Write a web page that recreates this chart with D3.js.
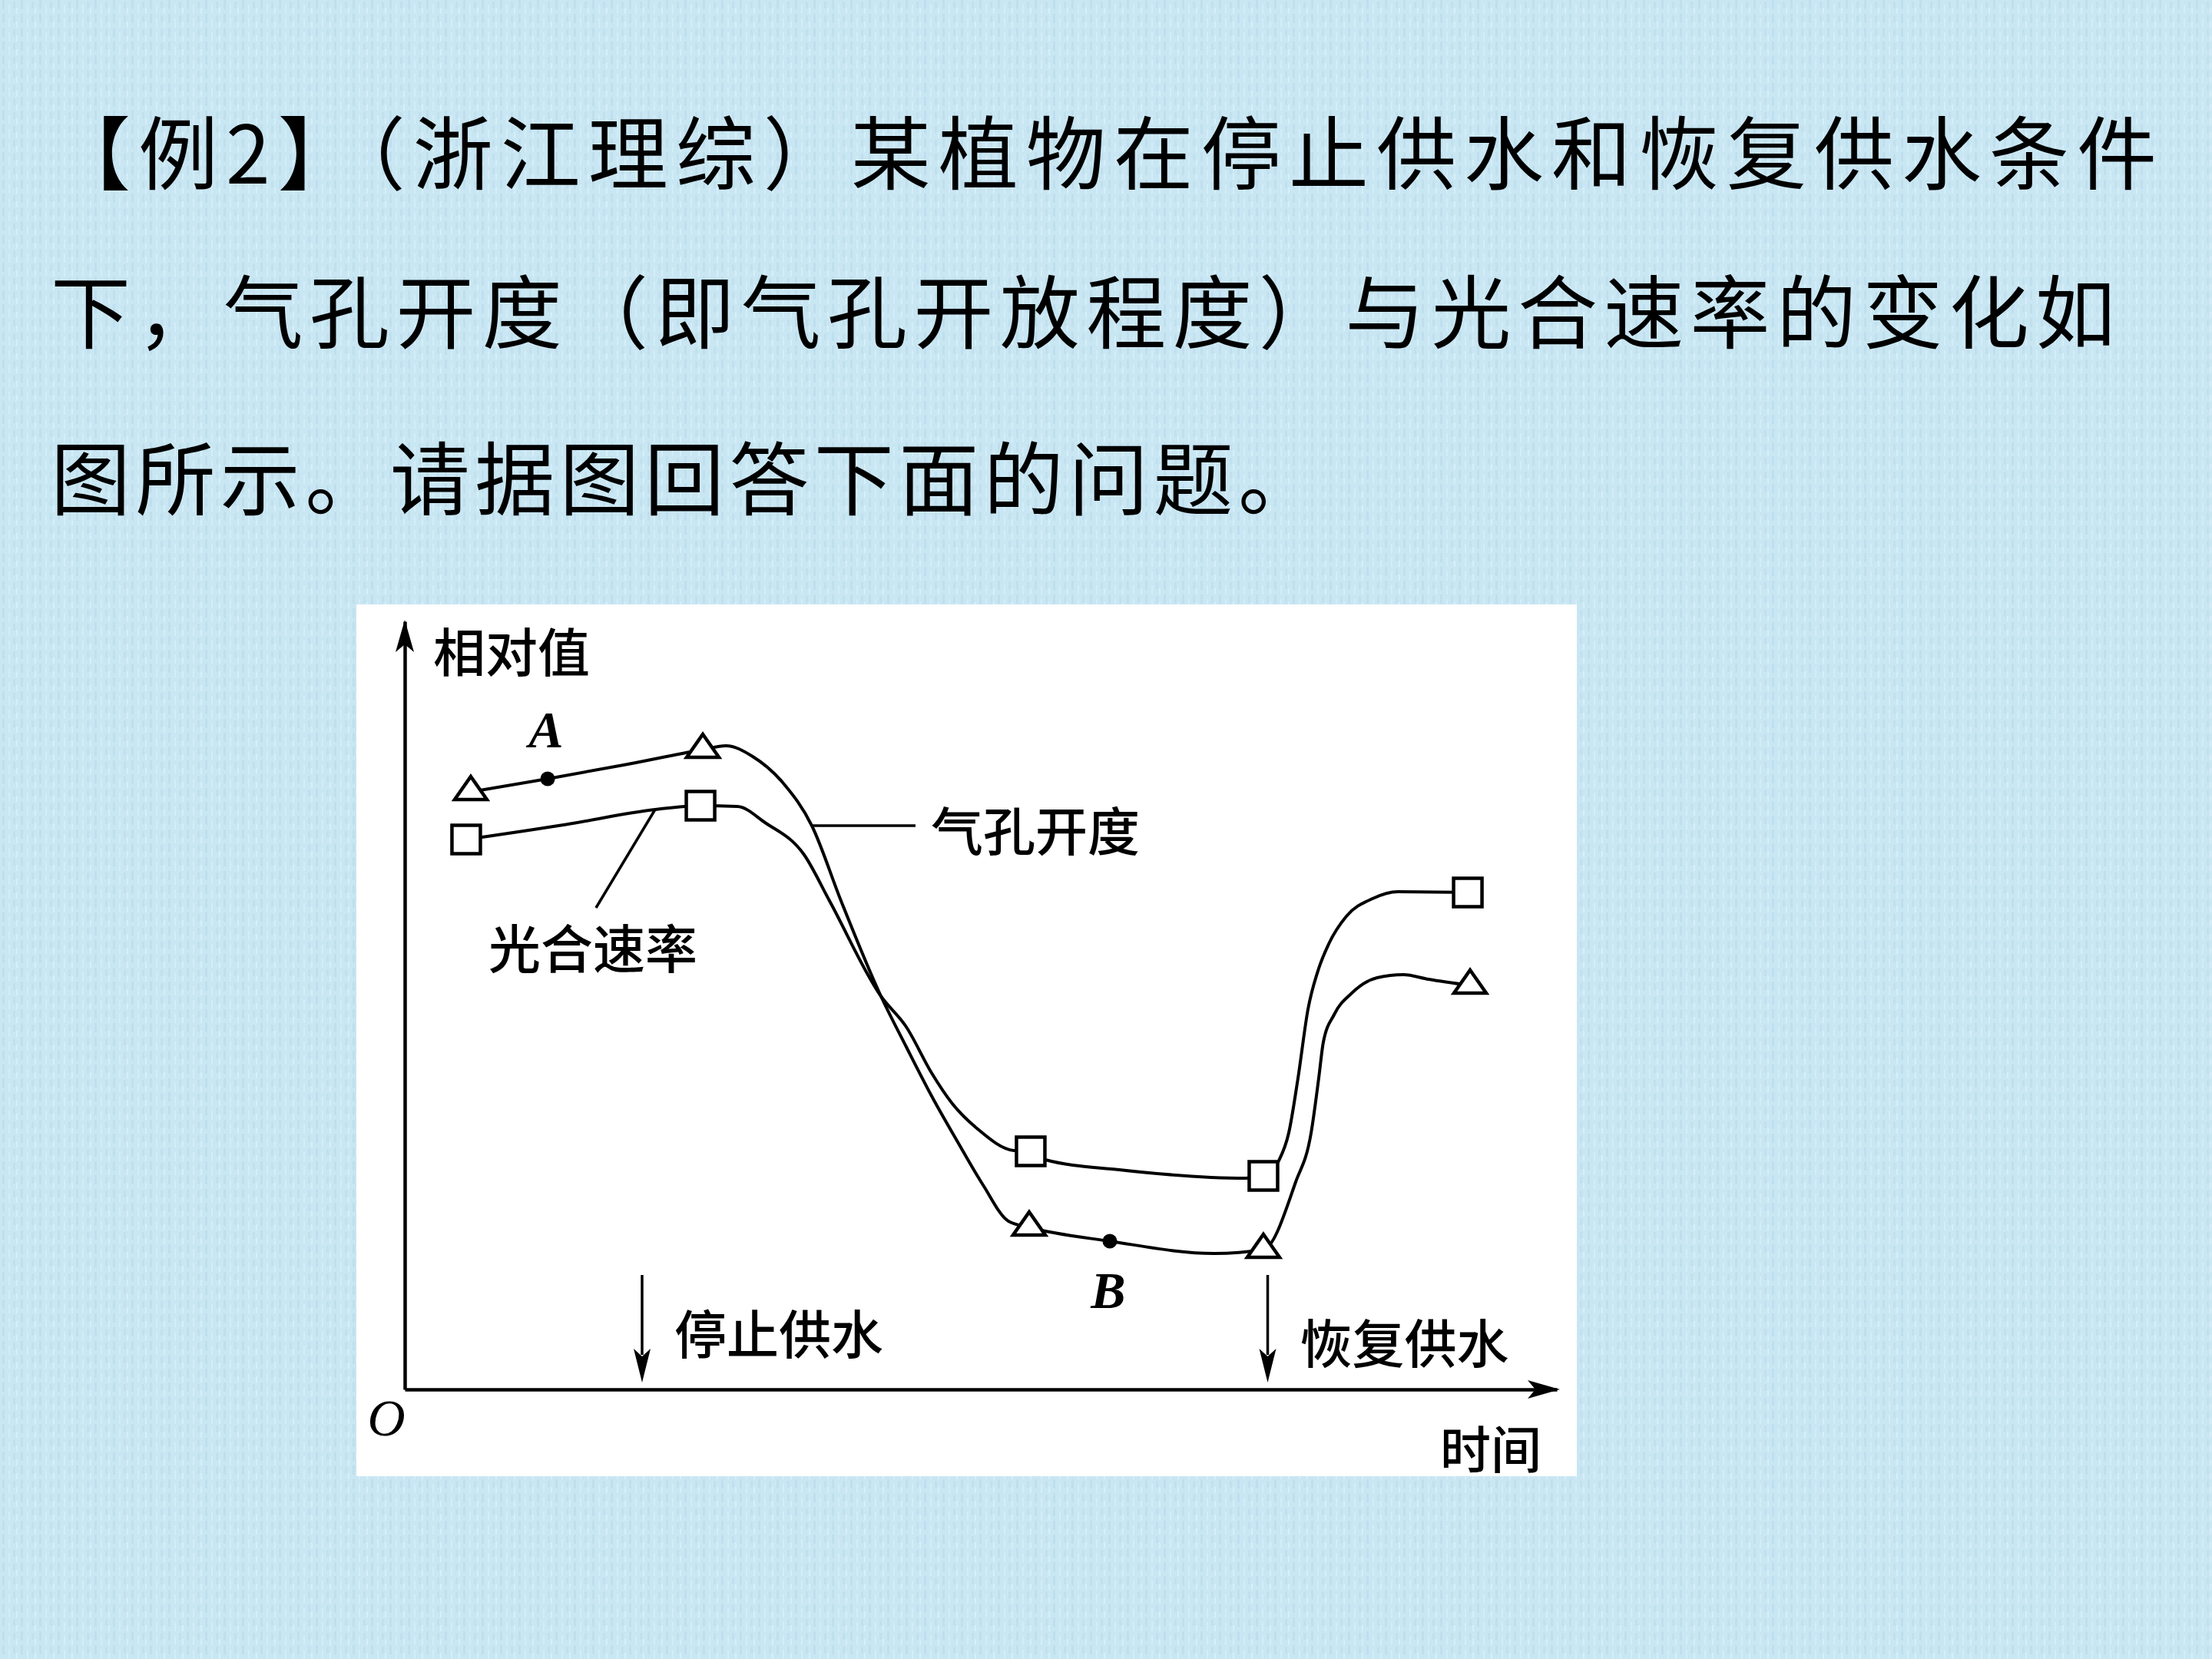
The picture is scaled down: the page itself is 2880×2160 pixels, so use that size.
<!DOCTYPE html>
<html>
<head>
<meta charset="utf-8">
<script src="https://cdn.jsdelivr.net/npm/d3@7"></script>
<style>
  body { margin: 0; background: #c8e5f2; }
  svg { display: block; }
</style>
</head>
<body>
<div id="chart"></div>
<script>
// question text, one entry per line
const titleLines = [
  "【例2】（浙江理综）某植物在停止供水和恢复供水条件",
  "下，气孔开度（即气孔开放程度）与光合速率的变化如",
  "图所示。请据图回答下面的问题。"
];

// 气孔开度 curve (time, relative value)
const stomataPts = [
  [0.573, 7.78], [1.24, 7.95], [1.9, 8.13], [2.587, 8.33], [2.787, 8.38], [3.02, 8.24],
  [3.287, 7.89], [3.533, 7.34], [3.787, 6.36], [4.133, 5.12], [4.353, 4.46],
  [4.573, 3.82], [4.8, 3.22], [5.02, 2.66], [5.24, 2.19], [5.42, 2.11],
  [6.12, 1.93], [7.027, 1.77], [7.453, 1.82], [7.733, 2.70], [7.867, 3.34],
  [7.933, 4.05], [7.973, 4.52], [8.067, 4.88], [8.22, 5.16], [8.44, 5.36],
  [8.667, 5.40], [8.887, 5.34], [9.247, 5.26]
];
const stomataMarks = [[0.573, 7.78], [2.587, 8.33], [5.42, 2.11], [7.453, 1.82], [9.247, 5.26]];

// 光合速率 curve
const photoPts = [
  [0.533, 7.16], [1.4, 7.355], [2.173, 7.55], [2.567, 7.60], [2.887, 7.59], [3.127, 7.38],
  [3.467, 6.96], [3.687, 6.36], [4.133, 5.12], [4.353, 4.72], [4.573, 4.12],
  [4.753, 3.72], [4.973, 3.39], [5.287, 3.11], [5.433, 3.10], [5.56, 2.99],
  [6.2, 2.86], [7.3, 2.75], [7.453, 2.78], [7.587, 2.98], [7.673, 3.34],
  [7.753, 4.05], [7.84, 4.95], [7.933, 5.48], [8.02, 5.80], [8.173, 6.16],
  [8.4, 6.39], [8.62, 6.48], [9.227, 6.47]
];
const photoMarks = [[0.533, 7.16], [2.567, 7.60], [5.433, 3.10], [7.453, 2.78], [9.227, 6.47]];

// labelled points on the 气孔开度 curve
const namedPoints = [
  {name: "A", t: 1.24, v: 7.95, side: -1},
  {name: "B", t: 6.12, v: 1.93, side: 1}
];

// water supply events on the time axis
const events = [
  {label: "停止供水", t: 2.06},
  {label: "恢复供水", t: 7.49}
];

const W = 2880, H = 2160;

const svg = d3.select("#chart").append("svg")
    .attr("width", W)
    .attr("height", H);

// textured light blue background
const defs = svg.append("defs");
const pat = defs.append("pattern")
    .attr("id", "bg")
    .attr("width", 24)
    .attr("height", 18)
    .attr("patternUnits", "userSpaceOnUse");
pat.append("rect").attr("width", 24).attr("height", 18).attr("fill", "#c9e6f3");
pat.append("rect").attr("x", 3).attr("width", 3).attr("height", 12).attr("fill", "#bfdfee");
pat.append("rect").attr("x", 11).attr("y", 6).attr("width", 2).attr("height", 12).attr("fill", "#d3edf8");
pat.append("rect").attr("x", 17).attr("y", 2).attr("width", 3).attr("height", 9).attr("fill", "#c1e0ee");
pat.append("rect").attr("x", 21).attr("y", 10).attr("width", 2).attr("height", 8).attr("fill", "#d6eff9");

svg.append("rect")
    .attr("width", W)
    .attr("height", H)
    .attr("fill", "url(#bg)");

// question text
const titleLen = [2742, 2688, 1650];
const titleY = [193, 400, 617];
svg.selectAll(".title")
  .data(titleLines)
  .enter().append("text")
    .attr("class", "title")
    .attr("x", 66)
    .attr("y", (d, i) => titleY[i])
    .attr("dominant-baseline", "central")
    .attr("textLength", (d, i) => titleLen[i])
    .attr("lengthAdjust", "spacing")
    .style("font-family", "'Noto Sans CJK SC', sans-serif")
    .style("font-size", "104px")
    .attr("fill", "#000")
    .text(d => d);

// white figure panel
svg.append("rect")
    .attr("x", 464)
    .attr("y", 787)
    .attr("width", 1589)
    .attr("height", 1135)
    .attr("fill", "#fff");

const xScale = d3.scaleLinear()
    .domain([0, 10])
    .range([527, 2027]);

const yScale = d3.scaleLinear()
    .domain([0, 10])
    .range([1809, 809]);

const g = svg.append("g");

// axes (no ticks, just the lines)
const xAxis = d3.axisBottom(xScale).ticks(0).tickSizeOuter(0);
const yAxis = d3.axisLeft(yScale).ticks(0).tickSizeOuter(0);

g.append("g")
    .attr("class", "axis x-axis")
    .attr("transform", `translate(0, ${yScale(0)})`)
    .call(xAxis);

g.append("g")
    .attr("class", "axis y-axis")
    .attr("transform", `translate(${xScale(0)}, 0)`)
    .call(yAxis);

g.selectAll(".axis .domain")
    .attr("stroke", "#000")
    .attr("stroke-width", 4.5);

const arrowHead = "M0,0 L-42,-12 L-32,0 L-42,12 Z";

g.append("path")
    .attr("d", arrowHead)
    .attr("transform", `translate(${xScale(10) + 4}, ${yScale(0)})`)
    .attr("fill", "#000");

g.append("path")
    .attr("d", arrowHead)
    .attr("transform", `translate(${xScale(0)}, ${yScale(10) - 2}) rotate(-90)`)
    .attr("fill", "#000");

const cjk = "'Noto Sans CJK SC', sans-serif";
const serif = "'Liberation Serif', 'DejaVu Serif', serif";

g.append("text")
    .attr("x", 564)
    .attr("y", 845)
    .attr("dominant-baseline", "central")
    .style("font-family", cjk)
    .style("font-size", "68px")
    .style("font-weight", 500)
    .text("相对值");

g.append("text")
    .attr("x", 1875)
    .attr("y", 1883)
    .attr("dominant-baseline", "central")
    .style("font-family", cjk)
    .style("font-size", "66px")
    .style("font-weight", 500)
    .text("时间");

g.append("text")
    .attr("x", xScale(0) - 24)
    .attr("y", yScale(0) + 60)
    .attr("text-anchor", "middle")
    .style("font-family", serif)
    .style("font-size", "68px")
    .style("font-style", "italic")
    .text("O");

// curves
const line = d3.line()
    .x(d => xScale(d[0]))
    .y(d => yScale(d[1]))
    .curve(d3.curveMonotoneX);

g.append("path")
    .datum(photoPts)
    .attr("fill", "none")
    .attr("stroke", "#000")
    .attr("stroke-width", 4)
    .attr("d", line);

g.append("path")
    .datum(stomataPts)
    .attr("fill", "none")
    .attr("stroke", "#000")
    .attr("stroke-width", 4)
    .attr("d", line);

// markers
g.selectAll(".sq")
  .data(photoMarks)
  .enter().append("rect")
    .attr("class", "sq")
    .attr("x", d => xScale(d[0]) - 18.5)
    .attr("y", d => yScale(d[1]) - 18.5)
    .attr("width", 37)
    .attr("height", 37)
    .attr("fill", "#fff")
    .attr("stroke", "#000")
    .attr("stroke-width", 4.5);

g.selectAll(".tri")
  .data(stomataMarks)
  .enter().append("path")
    .attr("class", "tri")
    .attr("d", "M0,-20 L21,10 L-21,10 Z")
    .attr("transform", d => `translate(${xScale(d[0])}, ${yScale(d[1])})`)
    .attr("fill", "#fff")
    .attr("stroke", "#000")
    .attr("stroke-width", 4.5)
    .attr("stroke-linejoin", "miter");

g.selectAll(".dot")
  .data(namedPoints)
  .enter().append("circle")
    .attr("class", "dot")
    .attr("cx", d => xScale(d.t))
    .attr("cy", d => yScale(d.v))
    .attr("r", 9.5)
    .attr("fill", "#000");

g.selectAll(".dot-label")
  .data(namedPoints)
  .enter().append("text")
    .attr("class", "dot-label")
    .attr("x", d => xScale(d.t) - 2)
    .attr("y", d => yScale(d.v) + d.side * 64)
    .attr("text-anchor", "middle")
    .attr("dominant-baseline", "central")
    .style("font-family", serif)
    .style("font-size", "68px")
    .style("font-style", "italic")
    .style("font-weight", "bold")
    .text(d => d.name);

// series labels with leader lines
const leaderStomata = stomataPts[7];
g.append("line")
    .attr("x1", xScale(leaderStomata[0]))
    .attr("y1", yScale(leaderStomata[1]))
    .attr("x2", xScale(leaderStomata[0]) + 135)
    .attr("y2", yScale(leaderStomata[1]))
    .attr("stroke", "#000")
    .attr("stroke-width", 3.5);

g.append("text")
    .attr("x", xScale(leaderStomata[0]) + 155)
    .attr("y", yScale(leaderStomata[1]) + 3)
    .attr("dominant-baseline", "central")
    .style("font-family", cjk)
    .style("font-size", "68px")
    .style("font-weight", 500)
    .text("气孔开度");

const leaderPhoto = photoPts[2];
g.append("line")
    .attr("x1", xScale(leaderPhoto[0]))
    .attr("y1", yScale(leaderPhoto[1]))
    .attr("x2", xScale(leaderPhoto[0]) - 77)
    .attr("y2", yScale(leaderPhoto[1]) + 128)
    .attr("stroke", "#000")
    .attr("stroke-width", 3.5);

g.append("text")
    .attr("x", 636)
    .attr("y", yScale(leaderPhoto[1]) + 177)
    .attr("dominant-baseline", "central")
    .style("font-family", cjk)
    .style("font-size", "68px")
    .style("font-weight", 500)
    .text("光合速率");

// water supply arrows
const ev = g.selectAll(".event")
  .data(events)
  .enter().append("g")
    .attr("class", "event")
    .attr("transform", d => `translate(${xScale(d.t)}, 0)`);

ev.append("line")
    .attr("x1", 0)
    .attr("x2", 0)
    .attr("y1", yScale(1.49))
    .attr("y2", yScale(0.45))
    .attr("stroke", "#000")
    .attr("stroke-width", 3.5);

ev.append("path")
    .attr("d", "M0,0 L-11,-44 L0,-34 L11,-44 Z")
    .attr("transform", `translate(0, ${yScale(0.09)})`)
    .attr("fill", "#000");

ev.append("text")
    .attr("x", 42)
    .attr("y", (d, i) => i === 0 ? 1733 : 1745)
    .attr("dominant-baseline", "central")
    .style("font-family", cjk)
    .style("font-size", "68px")
    .style("font-weight", 500)
    .text(d => d.label);
</script>
</body>
</html>
